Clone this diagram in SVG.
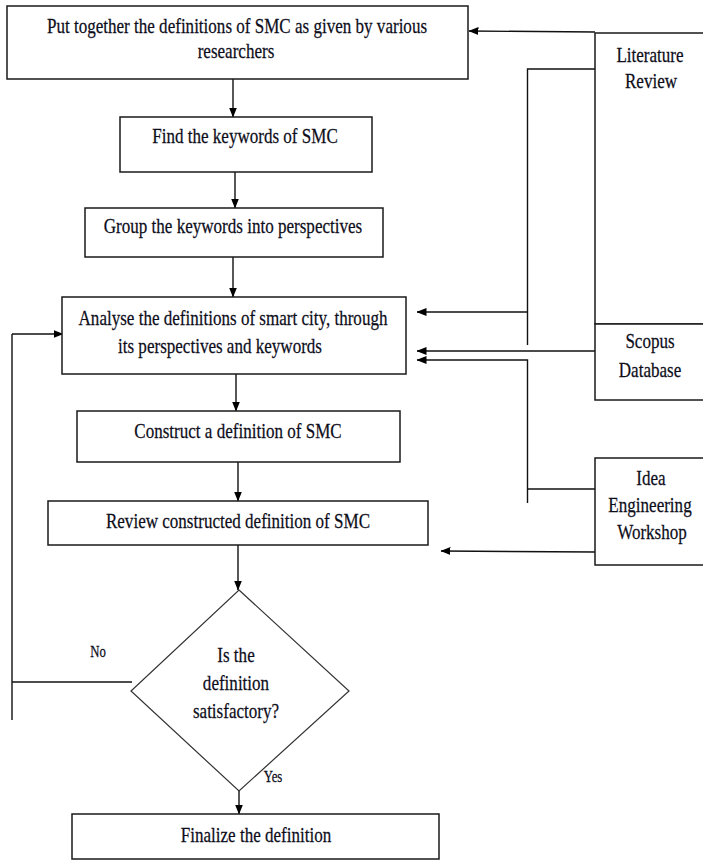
<svg xmlns="http://www.w3.org/2000/svg" width="703" height="860" viewBox="0 0 703 860">
<style>
.box{fill:#fff;stroke:#1a1a1a;stroke-width:1.5}
.dia{fill:#fff;stroke:#333;stroke-width:1.2}
.ln{fill:none;stroke:#111;stroke-width:1.4}
text{font-family:"Liberation Serif","Times New Roman",serif;fill:#0d0d1a;text-anchor:middle;stroke:#0d0d1a;stroke-width:0.25}
.t{font-size:22px}
.s{font-size:16px}
</style>
<defs>
<marker id="ah" markerWidth="10" markerHeight="8" refX="9.5" refY="4" orient="auto" markerUnits="userSpaceOnUse">
<path d="M0,0 L10,4 L0,8 z" fill="#000"/>
</marker>
</defs>
<rect width="703" height="860" fill="#fff"/>

<g id="connectors">
<line class="ln" x1="233" y1="79" x2="233" y2="117" marker-end="url(#ah)"/>
<line class="ln" x1="235" y1="159" x2="235" y2="208" marker-end="url(#ah)"/>
<line class="ln" x1="233" y1="252" x2="233" y2="297" marker-end="url(#ah)"/>
<line class="ln" x1="236" y1="362" x2="236" y2="411" marker-end="url(#ah)"/>
<line class="ln" x1="238" y1="453" x2="238" y2="501" marker-end="url(#ah)"/>
<line class="ln" x1="238" y1="538" x2="238" y2="590" marker-end="url(#ah)"/>
<line class="ln" x1="239" y1="768" x2="239" y2="814" marker-end="url(#ah)"/>
<line class="ln" x1="595" y1="32" x2="469" y2="31" marker-end="url(#ah)"/>
<polyline class="ln" points="595,69 527.5,69 527.5,345"/>
<line class="ln" x1="527.5" y1="312" x2="417" y2="312" marker-end="url(#ah)"/>
<line class="ln" x1="595" y1="351" x2="417" y2="351" marker-end="url(#ah)"/>
<polyline class="ln" points="595,489 527.5,489"/>
<polyline class="ln" points="527.5,503 527.5,360 417,360" marker-end="url(#ah)"/>
<line class="ln" x1="595" y1="552" x2="441" y2="551" marker-end="url(#ah)"/>
<polyline class="ln" points="132,682 12,682"/>
<line class="ln" x1="12" y1="720" x2="12" y2="334"/>
<line class="ln" x1="12" y1="334" x2="63" y2="334" marker-end="url(#ah)"/>
</g>

<g id="n1">
<rect class="box" x="7" y="6" width="461" height="73"/>
<text class="t" transform="translate(237,33) scale(0.775,1)">Put together the definitions of SMC as given by various</text>
<text class="t" transform="translate(236,58) scale(0.775,1)">researchers</text>
</g>
<g id="n2">
<rect class="box" x="120" y="117" width="252" height="55"/>
<text class="t" transform="translate(245,143) scale(0.775,1)">Find the keywords of SMC</text>
</g>
<g id="n3">
<rect class="box" x="85" y="208" width="298" height="49"/>
<text class="t" transform="translate(233,233) scale(0.775,1)">Group the keywords into perspectives</text>
</g>
<g id="n4">
<rect class="box" x="62" y="297" width="344" height="77"/>
<text class="t" transform="translate(233,325) scale(0.775,1)">Analyse the definitions of smart city, through</text>
<text class="t" transform="translate(220,353) scale(0.775,1)">its perspectives and keywords</text>
</g>
<g id="n5">
<rect class="box" x="77" y="411" width="323" height="51"/>
<text class="t" transform="translate(238,438) scale(0.775,1)">Construct a definition of SMC</text>
</g>
<g id="n6">
<rect class="box" x="48" y="501" width="380" height="44"/>
<text class="t" transform="translate(238,528) scale(0.775,1)">Review constructed definition of SMC</text>
</g>
<g id="n7">
<polygon class="dia" points="239,590 349,691 239,791 131,691"/>
<text class="t" transform="translate(236,662) scale(0.775,1)">Is the</text>
<text class="t" transform="translate(236,690) scale(0.775,1)">definition</text>
<text class="t" transform="translate(236,718) scale(0.775,1)">satisfactory?</text>
</g>
<g id="n8">
<rect class="box" x="72" y="814" width="367" height="45"/>
<text class="t" transform="translate(256,842) scale(0.775,1)">Finalize the definition</text>
</g>
<g id="lit">
<rect class="box" x="595" y="33" width="130" height="291"/>
<text class="t" transform="translate(650,62) scale(0.775,1)">Literature</text>
<text class="t" transform="translate(651,88) scale(0.775,1)">Review</text>
</g>
<g id="scopus">
<rect class="box" x="595" y="324" width="130" height="76"/>
<text class="t" transform="translate(650,348) scale(0.775,1)">Scopus</text>
<text class="t" transform="translate(650,377) scale(0.775,1)">Database</text>
</g>
<g id="idea">
<rect class="box" x="595" y="458" width="130" height="107"/>
<text class="t" transform="translate(651,485) scale(0.775,1)">Idea</text>
<text class="t" transform="translate(650,512) scale(0.775,1)">Engineering</text>
<text class="t" transform="translate(652,539) scale(0.775,1)">Workshop</text>
</g>
<g id="labels">
<text class="s" transform="translate(98,657) scale(0.8,1)">No</text>
<text class="s" transform="translate(273,782) scale(0.8,1)">Yes</text>
</g>
</svg>
